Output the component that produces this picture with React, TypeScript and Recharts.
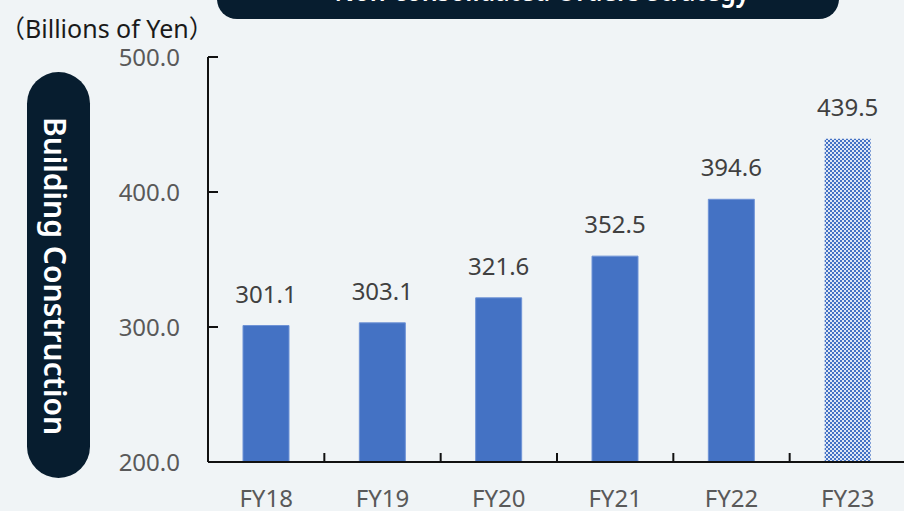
import React from 'react'
import { BarChart, Bar, XAxis, YAxis, Cell, LabelList } from 'recharts'

const years = ['FY18', 'FY19', 'FY20', 'FY21', 'FY22', 'FY23']
const orders = [301.1, 303.1, 321.6, 352.5, 394.6, 439.5]
const yTicks = [200, 300, 400, 500]
const forecastIndex = 5

const data = years.map((fy, i) => ({ fy, value: orders[i] }))

const FONT = '"Noto Sans", "Noto Sans CJK JP", sans-serif'
const NAVY = '#071d2f'
const BLUE = '#4472c4'

const CHART_W = 906
const CHART_H = 522
const MARGIN = { top: 57, right: 0, left: 108, bottom: 0 }
const Y_W = 100
const TICK_GAP = 28
const band = (CHART_W - MARGIN.left - MARGIN.right - Y_W) / years.length

const YTick = (props: any) => {
  const { x, y, payload } = props
  const ax = x + TICK_GAP
  return (
    <g>
      <line x1={ax} x2={ax + 10} y1={y} y2={y} stroke="#111" strokeWidth={2} />
      <text x={x} y={y} dy="0.355em" textAnchor="end" fill="#595959" fontSize={24} fontFamily={FONT}>
        {Number(payload.value).toFixed(1)}
      </text>
    </g>
  )
}

const XTick = (props: any) => {
  const { x, y, payload, index } = props
  const ay = y - TICK_GAP
  return (
    <g>
      {index > 0 && (
        <line x1={x - band / 2} x2={x - band / 2} y1={ay} y2={ay - 9} stroke="#111" strokeWidth={2} />
      )}
      <text x={x} y={y} dy="0.71em" textAnchor="middle" fill="#595959" fontSize={24} fontFamily={FONT}>
        {payload.value}
      </text>
    </g>
  )
}

export default function App() {
  return (
    <div
      style={{
        position: 'absolute',
        left: 0,
        top: 0,
        width: 904,
        height: 511,
        overflow: 'hidden',
        background: '#f0f4f6',
        fontFamily: FONT,
      }}
    >
      <svg width={904} height={511} style={{ position: 'absolute', left: 0, top: 0 }}>
        <defs>
          <pattern id="checker" width={4} height={4} patternUnits="userSpaceOnUse">
            <rect width={4} height={4} fill="#dfe7f5" />
            <rect x={0} y={0} width={2} height={2} fill={BLUE} />
            <rect x={2} y={2} width={2} height={2} fill={BLUE} />
          </pattern>
        </defs>
        {/* top title pill, mostly cut off */}
        <rect x={217} y={-40} width={622} height={59} rx={20} fill={NAVY} />
        <text
          x={542}
          y={0.5}
          textAnchor="middle"
          fill="#fff"
          fontSize={28}
          fontWeight={600}
          fontFamily={FONT}
          textLength={415}
          lengthAdjust="spacingAndGlyphs"
        >
          Non-consolidated Orders Strategy
        </text>
        <text x={0} y={38} fill="#1a1a1a" fontSize={25} fontFamily={FONT}>
          （Billions of Yen）
        </text>
        {/* side segment pill */}
        <rect x={27} y={72} width={63} height={406} rx={31.5} fill={NAVY} />
        <text
          transform="translate(44 276) rotate(90)"
          textAnchor="middle"
          fill="#fff"
          fontSize={30}
          fontWeight={600}
          fontFamily={FONT}
        >
          Building Construction
        </text>
      </svg>
      <div style={{ position: 'absolute', left: 0, top: 0 }}>
        <BarChart width={CHART_W} height={CHART_H} data={data} margin={MARGIN}>
          <XAxis
            dataKey="fy"
            height={60}
            tickLine={false}
            tickSize={0}
            tickMargin={TICK_GAP}
            axisLine={{ stroke: '#111', strokeWidth: 2 }}
            tick={<XTick />}
            interval={0}
          />
          <YAxis
            width={Y_W}
            domain={[200, 500]}
            ticks={yTicks}
            tickLine={false}
            tickSize={0}
            tickMargin={TICK_GAP}
            axisLine={{ stroke: '#111', strokeWidth: 2 }}
            tick={<YTick />}
            allowDataOverflow
          />
          <Bar dataKey="value" barSize={46} isAnimationActive={false}>
            {data.map((_, i) => (
              <Cell
                key={`cell-${i}`}
                fill={i === forecastIndex ? 'url(#checker)' : BLUE}
                stroke={i === forecastIndex ? 'none' : '#6f93d6'}
                strokeWidth={1}
              />
            ))}
            <LabelList
              dataKey="value"
              position="top"
              offset={23}
              fill="#404040"
              fontSize={24}
              fontFamily={FONT}
              formatter={(v: any) => Number(v).toFixed(1)}
            />
          </Bar>
        </BarChart>
      </div>
    </div>
  )
}
